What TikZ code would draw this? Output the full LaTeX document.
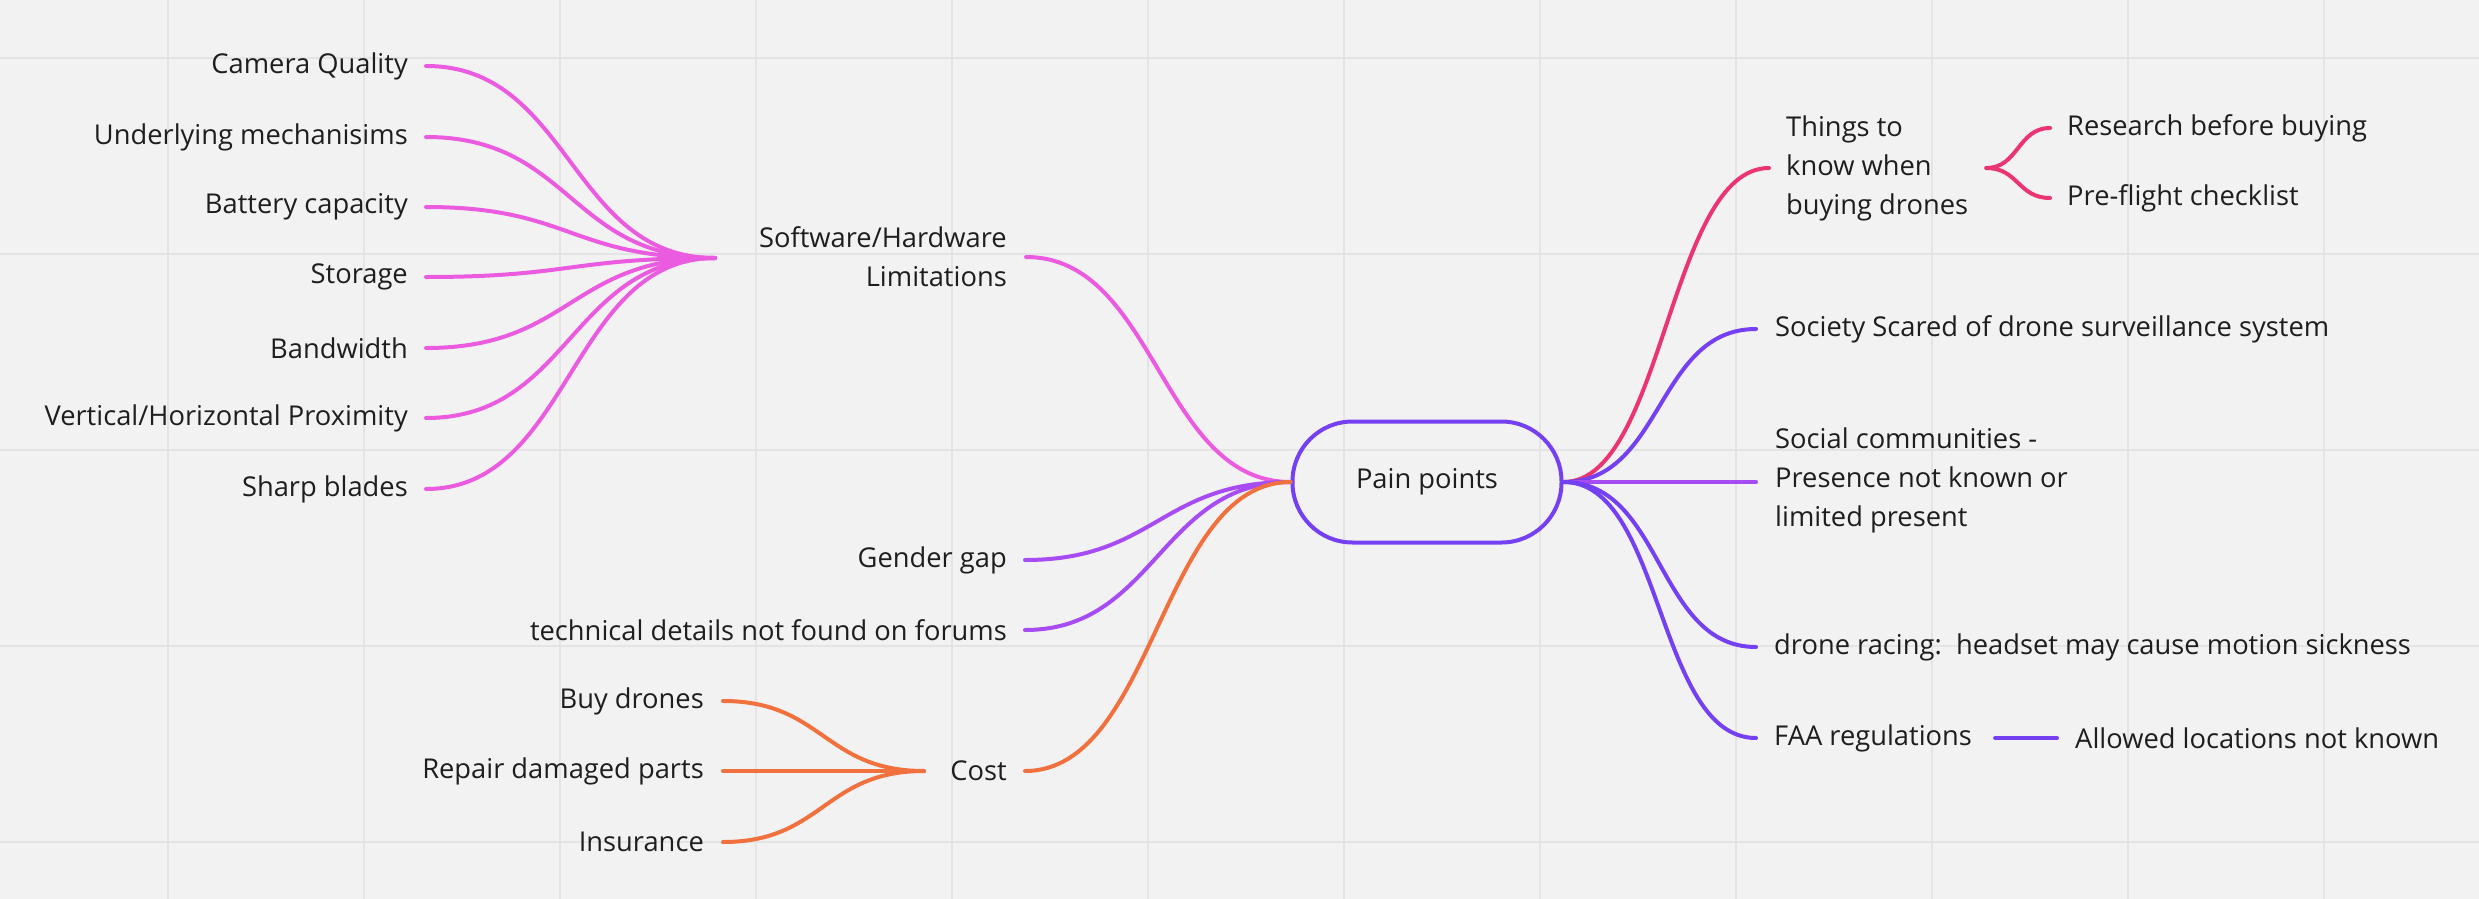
\documentclass[tikz,border=0pt]{standalone}
\usepackage{fontspec}
\setmainfont{Open Sans}
\definecolor{bg}{HTML}{F2F2F2}
\definecolor{gridc}{HTML}{E4E4E4}
\definecolor{txt}{HTML}{1E1E1E}
\definecolor{cpink}{HTML}{EA5BE0}
\definecolor{cviolet}{HTML}{A64CF2}
\definecolor{corange}{HTML}{F0703E}
\definecolor{cred}{HTML}{EA3572}
\definecolor{cblue}{HTML}{7440F2}
\tikzset{
  lbl/.style={font=\fontsize{27.3}{39}\selectfont, text=txt, inner sep=0pt},
  leafL/.style={lbl, anchor=east, align=right},
  leafR/.style={lbl, anchor=west, align=left},
  conn/.style={line width=4pt, line cap=round},
  gridline/.style={draw=gridc, line width=2pt},
}
\begin{document}
\begin{tikzpicture}[x=1pt,y=-1pt]
\fill[bg] (0,0) rectangle (2479,899);
\useasboundingbox (0,0) rectangle (2479,899);
\foreach \gx in {168,364,560,756,952,1148,1344,1540,1736,1932,2128,2324}
  \draw[gridline] (\gx,0) -- (\gx,899);
\foreach \gy in {58,254,450,646,842}
  \draw[gridline] (0,\gy) -- (2479,\gy);

% central node
\node[draw=cblue, line width=4pt, rounded corners=60pt, minimum width=269pt, minimum height=121pt, lbl] (pain) at (1427,482) {Pain points};

% left pink branch
\node[leafL] (sw) at (1007,257) {Software/Hardware\\Limitations};
\coordinate (swj) at (715,258);
\node[leafL] (cam) at (408,66) {Camera Quality};
\node[leafL] (und) at (408,137) {Underlying mechanisims};
\node[leafL] (bat) at (408,207) {Battery capacity};
\node[leafL] (sto) at (408,277) {Storage};
\node[leafL] (ban) at (408,348) {Bandwidth};
\node[leafL] (ver) at (408,418) {Vertical/Horizontal Proximity};
\node[leafL] (sha) at (408,489) {Sharp blades};
\foreach \n in {cam,und,bat,sto,ban,ver,sha}
  \draw[conn, cpink] ([xshift=18pt]\n.east) .. controls +(145,0) and +(-145,0) .. (swj);
\draw[conn, cpink] ([xshift=19pt]sw.east) .. controls +(130,0) and +(-130,0) .. (pain.west);

% left violet
\node[leafL] (gen) at (1007,560) {Gender gap};
\node[leafL] (tec) at (1007,630) {technical details not found on forums};
\draw[conn, cviolet] ([xshift=18pt]gen.east) .. controls +(130,0) and +(-130,0) .. (pain.west);
\draw[conn, cviolet] ([xshift=18pt]tec.east) .. controls +(130,0) and +(-130,0) .. (pain.west);

% cost
\node[leafL] (cost) at (1007,771) {Cost};
\coordinate (costj) at (924,771);
\node[leafL] (buy) at (704,701) {Buy drones};
\node[leafL] (rep) at (704,771) {Repair damaged parts};
\node[leafL] (ins) at (704,842) {Insurance};
\foreach \n in {buy,rep,ins}
  \draw[conn, corange] ([xshift=19pt]\n.east) .. controls +(100,0) and +(-100,0) .. (costj);
\draw[conn, corange] ([xshift=18pt]cost.east) .. controls +(130,0) and +(-130,0) .. (pain.west);

% right side
\node[leafR] (thi) at (1786,168) {Things to\\know when\\buying drones};
\node[leafR] (res) at (2067,128) {Research before buying};
\node[leafR] (pre) at (2067,198) {Pre-flight checklist};
\draw[conn, cred] (pain.east) .. controls +(100,0) and +(-100,0) .. ([xshift=-17pt]thi.west);
\coordinate (thj) at ([xshift=18pt]thi.east);
\draw[conn, cred] (thj) .. controls +(32,0) and +(-32,0) .. ([xshift=-17pt]res.west);
\draw[conn, cred] (thj) .. controls +(32,0) and +(-32,0) .. ([xshift=-17pt]pre.west);

\node[leafR] (soc) at (1775,329) {Society Scared of drone surveillance system};
\draw[conn, cblue] (pain.east) .. controls +(100,0) and +(-100,0) .. ([xshift=-19pt]soc.west);

\node[leafR] (com) at (1775,480) {Social communities -\\Presence not known or\\limited present};
\coordinate (comj) at ([xshift=-19pt]com.west);
\draw[conn, cviolet] (pain.east) -- (comj |- pain.east);

\node[leafR] (dro) at (1774,647) {drone racing:\ \ headset may cause motion sickness};
\draw[conn, cblue] (pain.east) .. controls +(100,0) and +(-100,0) .. ([xshift=-18pt]dro.west);

\node[leafR] (faa) at (1774,738) {FAA regulations};
\node[leafR] (all) at (2075,738) {Allowed locations not known};
\draw[conn, cblue] (pain.east) .. controls +(100,0) and +(-100,0) .. ([xshift=-18pt]faa.west);
\draw[conn, cblue] ([xshift=23pt]faa.east) -- ([xshift=-18pt]all.west);
\end{tikzpicture}
\end{document}
